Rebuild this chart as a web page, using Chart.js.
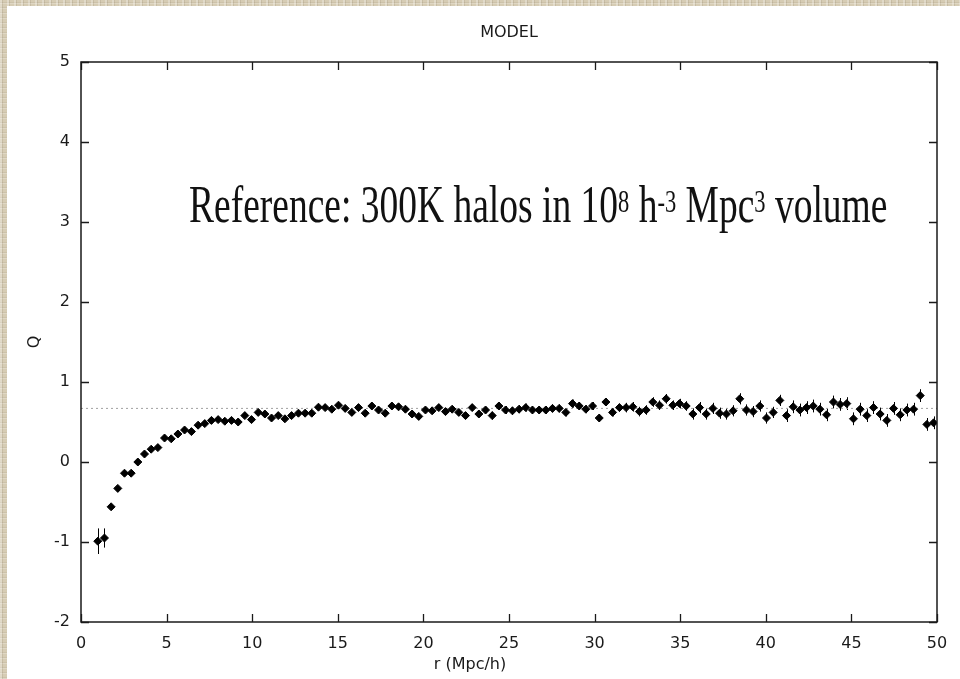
<!DOCTYPE html>
<html>
<head>
<meta charset="utf-8">
<script src="https://cdn.jsdelivr.net/npm/chart.js@4.4.1/dist/chart.umd.min.js"></script>
<style>
  html, body { margin: 0; padding: 0; }
  body {
    width: 960px; height: 679px; position: relative; overflow: hidden;
    background-color: #d6ccb4;
    background-image:
      repeating-linear-gradient(90deg, rgba(255,255,255,0.28) 0 2px, rgba(90,75,50,0.12) 2px 3px, transparent 3px 7px),
      repeating-linear-gradient(0deg, rgba(255,255,255,0.22) 0 1px, rgba(90,75,50,0.08) 1px 2px, transparent 2px 5px);
  }
  #panel { position: absolute; left: 7px; top: 6px; right: 0; bottom: 0; background: #fff; }
  #wrap { position: absolute; left: 0; top: 0; width: 960px; height: 679px; }
  #note {
    position: absolute; left: 189px; top: 179px; white-space: nowrap;
    font-family: "Liberation Serif", "Times New Roman", serif; font-size: 37.5px; line-height: 1;
    color: #111; transform: scaleY(1.38); transform-origin: 0 0;
  }
  #note sup { font-size: 0.6em; vertical-align: 0.32em; line-height: 0; }
</style>
</head>
<body>
<div id="panel"></div>
<div id="wrap"><canvas id="c" width="960" height="679"></canvas></div>
<div id="note">Reference: 300K halos in 10<sup>8</sup> h<sup>-3</sup> Mpc<sup>3</sup> volume</div>
<script>
// ---- data ----
const rValues = [0.98,1.37,1.76,2.15,2.54,2.93,3.32,3.71,4.10,4.49,4.88,5.27,5.66,6.05,6.45,6.84,7.23,7.62,8.01,8.40,8.79,9.18,9.57,9.96,10.35,10.74,11.13,11.52,11.91,12.30,12.70,13.09,13.48,13.87,14.26,14.65,15.04,15.43,15.82,16.21,16.60,16.99,17.38,17.77,18.16,18.55,18.95,19.34,19.73,20.12,20.51,20.90,21.29,21.68,22.07,22.46,22.85,23.24,23.63,24.02,24.41,24.80,25.20,25.59,25.98,26.37,26.76,27.15,27.54,27.93,28.32,28.71,29.10,29.49,29.88,30.27,30.66,31.05,31.45,31.84,32.23,32.62,33.01,33.40,33.79,34.18,34.57,34.96,35.35,35.74,36.13,36.52,36.91,37.30,37.70,38.09,38.48,38.87,39.26,39.65,40.04,40.43,40.82,41.21,41.60,41.99,42.38,42.77,43.16,43.55,43.95,44.34,44.73,45.12,45.51,45.90,46.29,46.68,47.07,47.46,47.85,48.24,48.63,49.02,49.41,49.80];
const qValues = [-0.99,-0.95,-0.56,-0.33,-0.14,-0.14,0.00,0.10,0.16,0.18,0.30,0.29,0.35,0.40,0.38,0.46,0.48,0.52,0.53,0.51,0.52,0.50,0.58,0.53,0.62,0.60,0.55,0.58,0.54,0.58,0.61,0.61,0.61,0.685,
  0.68,0.66,0.71,0.67,0.62,0.68,0.61,0.70,0.65,0.61,0.70,0.69,0.66,0.60,0.57,0.65,0.64,0.68,0.63,0.66,0.62,0.58,
  0.68,0.60,0.65,0.58,0.70,0.65,0.64,0.66,0.68,0.65,0.65,0.65,0.67,0.67,0.62,0.73,0.70,0.66,0.70,0.55,0.75,0.62,0.68,
  0.68,0.69,0.63,0.65,0.75,0.71,0.79,0.71,0.73,0.70,0.60,0.68,0.60,0.67,0.61,0.60,0.64,0.79,0.65,0.63,0.70,0.55,0.62,0.77,
  0.58,0.69,0.65,0.68,0.70,0.66,0.59,0.75,0.72,0.73,0.54,0.66,0.58,0.68,0.60,0.52,0.67,0.59,0.65,0.66,0.83,0.47,0.49];
const qErrors = [0.16,0.12,0.03,0.03,0.03,0.03,0.03,0.03,0.03,0.03,0.03,0.03,0.03,0.03,0.03,0.03,0.03,0.03,0.03,0.03,0.03,0.03,0.03,0.03,0.03,0.03,0.03,0.03,0.03,0.03,0.03,0.03,0.03,0.03,
  0.03,0.03,0.03,0.03,0.03,0.03,0.03,0.03,0.03,0.03,0.03,0.03,0.03,0.03,0.03,0.03,0.03,0.03,0.03,0.04,0.04,0.04,
  0.04,0.04,0.04,0.05,0.05,0.05,0.05,0.05,0.05,0.05,0.05,0.05,0.05,0.05,0.05,0.05,0.05,0.05,0.05,0.05,0.05,0.05,0.05,
  0.06,0.06,0.06,0.06,0.06,0.06,0.06,0.06,0.06,0.06,0.07,0.07,0.07,0.07,0.07,0.07,0.07,0.07,0.07,0.07,0.07,0.07,0.07,0.07,
  0.08,0.08,0.08,0.08,0.08,0.08,0.08,0.08,0.08,0.08,0.08,0.08,0.08,0.08,0.08,0.08,0.08,0.08,0.08,0.08,0.08,0.08,0.08];
const refLineX = [0, 50];
const refLineY = [0.67, 0.67];
const xTickValues = [0,5,10,15,20,25,30,35,40,45,50];
const yTickValues = [-2,-1,0,1,2,3,4,5];
const titleText = 'MODEL';
const xTitle = 'r (Mpc/h)';
const yTitle = 'Q';

const points = rValues.map((x, i) => ({ x: x, y: qValues[i] }));
const refLine = refLineX.map((x, i) => ({ x: x, y: refLineY[i] }));

const INK = '#1a1a1a';
const FONT = '16px "DejaVu Sans", "Liberation Sans", Arial, sans-serif';

const decorPlugin = {
  id: 'decor',
  beforeDatasetsDraw(chart) {
    const ctx = chart.ctx, xs = chart.scales.x, ys = chart.scales.y;
    ctx.save();
    ctx.strokeStyle = '#000';
    ctx.lineWidth = 1;
    rValues.forEach((r, i) => {
      const px = Math.round(xs.getPixelForValue(r)) + 0.5;
      ctx.beginPath();
      ctx.moveTo(px, ys.getPixelForValue(qValues[i] - qErrors[i]));
      ctx.lineTo(px, ys.getPixelForValue(qValues[i] + qErrors[i]));
      ctx.stroke();
    });
    ctx.restore();
  },
  afterDraw(chart) {
    const ctx = chart.ctx, a = chart.chartArea, xs = chart.scales.x, ys = chart.scales.y;
    ctx.save();
    ctx.strokeStyle = INK;
    ctx.lineWidth = 1.5;
    ctx.strokeRect(a.left, a.top, a.right - a.left, a.bottom - a.top);
    ctx.lineWidth = 1.3;
    const tl = 8;
    ctx.beginPath();
    xTickValues.forEach(v => {
      const px = Math.round(xs.getPixelForValue(v)) + 0.5;
      ctx.moveTo(px, a.bottom); ctx.lineTo(px, a.bottom - tl);
      ctx.moveTo(px, a.top); ctx.lineTo(px, a.top + tl);
    });
    yTickValues.forEach(v => {
      const py = Math.round(ys.getPixelForValue(v)) + 0.5;
      ctx.moveTo(a.left, py); ctx.lineTo(a.left + tl, py);
      ctx.moveTo(a.right, py); ctx.lineTo(a.right - tl, py);
    });
    ctx.stroke();
    ctx.fillStyle = INK;
    ctx.font = FONT;
    ctx.textAlign = 'center';
    ctx.textBaseline = 'middle';
    ctx.fillText(titleText, (a.left + a.right) / 2, 33);
    ctx.fillText(xTitle, 470, 665);
    ctx.translate(35, (a.top + a.bottom) / 2);
    ctx.rotate(-Math.PI / 2);
    ctx.fillText(yTitle, 0, 0);
    ctx.restore();
  }
};

new Chart(document.getElementById('c'), {
  type: 'scatter',
  data: {
    datasets: [
      {
        data: points,
        pointStyle: 'rectRot',
        pointRadius: 4,
        pointHoverRadius: 4,
        backgroundColor: '#000',
        borderColor: '#000',
        borderWidth: 1,
        showLine: false
      },
      {
        type: 'line',
        data: refLine,
        borderColor: '#a0a0a0',
        borderWidth: 1,
        borderDash: [2, 3],
        pointRadius: 0,
        fill: false
      }
    ]
  },
  options: {
    responsive: false,
    animation: false,
    events: [],
    layout: { padding: { top: 62, right: 23, left: 0, bottom: 0 } },
    plugins: { legend: { display: false }, tooltip: { enabled: false }, title: { display: false } },
    scales: {
      x: {
        type: 'linear', min: 0, max: 50,
        afterBuildTicks(s) { s.ticks = xTickValues.map(v => ({ value: v })); },
        afterFit(s) { s.height = 57; },
        grid: { display: false, drawTicks: false },
        border: { display: false },
        ticks: { color: INK, font: { family: '"DejaVu Sans", "Liberation Sans", Arial, sans-serif', size: 16 }, padding: 12, maxRotation: 0, autoSkip: false }
      },
      y: {
        type: 'linear', min: -2, max: 5,
        afterBuildTicks(s) { s.ticks = yTickValues.map(v => ({ value: v })); },
        afterFit(s) { s.width = 81; },
        grid: { display: false, drawTicks: false },
        border: { display: false },
        ticks: { color: INK, font: { family: '"DejaVu Sans", "Liberation Sans", Arial, sans-serif', size: 16 }, padding: 11, autoSkip: false }
      }
    }
  },
  plugins: [decorPlugin]
});
</script>
</body>
</html>
